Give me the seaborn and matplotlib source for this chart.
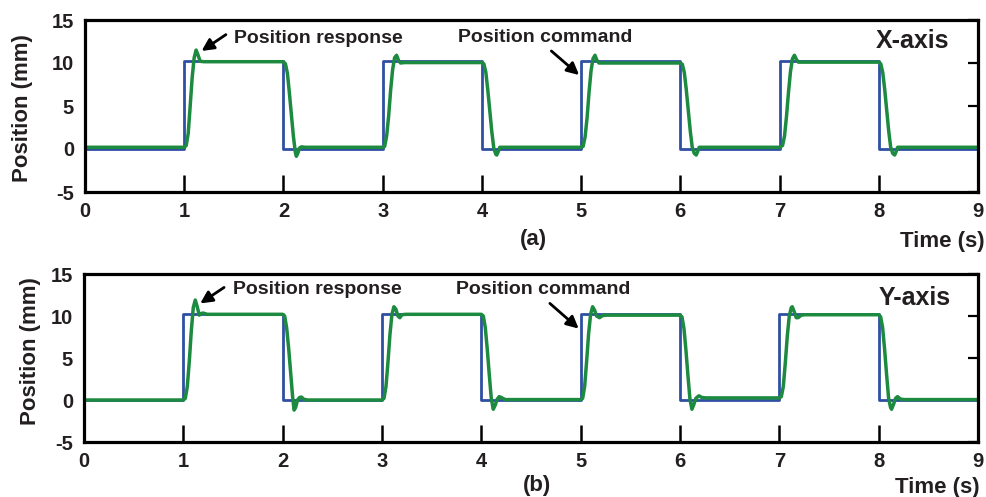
import matplotlib
matplotlib.use("Agg")
import matplotlib.pyplot as plt
import seaborn as sns
import pandas as pd

# ---------------- data ----------------
cmd_t = [0, 1, 2, 3, 4, 5, 6, 7, 8, 9]
cmd_a = [0, 10.2, 0, 10.2, 0, 10.2, 0, 10.2, 0, 0]
cmd_b = [0, 10.2, 0, 10.2, 0, 10.2, 0, 10.2, 0, 0]

resp_a_t = [0.00, 1.00, 1.02, 1.04, 1.06, 1.08, 1.10, 1.12, 1.14, 1.16, 1.20,
            2.00, 2.02, 2.04, 2.06, 2.08, 2.10, 2.12, 2.13, 2.145, 2.16, 2.18, 2.22,
            3.00, 3.02, 3.04, 3.06, 3.08, 3.10, 3.12, 3.14, 3.16, 3.18, 3.22,
            4.00, 4.02, 4.04, 4.06, 4.08, 4.10, 4.12, 4.14, 4.15, 4.165, 4.18, 4.22,
            5.00, 5.02, 5.04, 5.06, 5.08, 5.10, 5.12, 5.14, 5.16, 5.18, 5.22,
            6.00, 6.02, 6.04, 6.06, 6.08, 6.10, 6.12, 6.14, 6.16, 6.175, 6.19, 6.23,
            7.00, 7.03, 7.05, 7.07, 7.09, 7.11, 7.13, 7.15, 7.17, 7.19, 7.23,
            8.00, 8.02, 8.04, 8.06, 8.08, 8.10, 8.12, 8.14, 8.16, 8.175, 8.19, 8.23, 9.00]
resp_a_y = [0.2, 0.2, 0.4, 1.8, 5.0, 8.3, 10.6, 11.5, 10.9, 10.2, 10.15,
            10.15, 9.9, 8.8, 6.5, 4.0, 1.5, -0.4, -0.85, -0.5, 0.1, 0.25, 0.2,
            0.2, 0.3, 1.5, 3.8, 6.8, 9.2, 10.6, 10.9, 10.3, 10.0, 10.05,
            10.05, 9.9, 8.9, 6.8, 4.4, 2.0, 0.1, -0.6, -0.7, -0.3, 0.2, 0.2,
            0.2, 0.3, 1.4, 3.6, 6.6, 9.1, 10.5, 10.9, 10.3, 10.0, 10.0,
            10.0, 9.85, 8.9, 6.9, 4.5, 2.1, 0.2, -0.5, -0.7, -0.3, 0.2, 0.2,
            0.2, 0.4, 1.5, 3.8, 6.6, 9.0, 10.5, 10.9, 10.4, 10.1, 10.1,
            10.1, 9.9, 8.9, 6.9, 4.5, 2.1, 0.2, -0.5, -0.7, -0.3, 0.2, 0.2, 0.2]

resp_b_t = [0.00, 1.00, 1.02, 1.04, 1.06, 1.08, 1.10, 1.12, 1.14, 1.16, 1.18, 1.20, 1.24,
            2.00, 2.02, 2.04, 2.06, 2.08, 2.10, 2.115, 2.13, 2.15, 2.17, 2.19, 2.21, 2.25,
            3.00, 3.02, 3.04, 3.06, 3.08, 3.10, 3.12, 3.14, 3.16, 3.18, 3.20, 3.24,
            4.00, 4.02, 4.04, 4.06, 4.08, 4.10, 4.12, 4.14, 4.16, 4.18, 4.20, 4.24,
            5.00, 5.02, 5.04, 5.06, 5.08, 5.10, 5.12, 5.14, 5.16, 5.19, 5.22, 5.26,
            6.00, 6.02, 6.04, 6.06, 6.08, 6.10, 6.12, 6.14, 6.16, 6.19, 6.22, 6.26,
            7.00, 7.02, 7.04, 7.06, 7.08, 7.10, 7.12, 7.13, 7.15, 7.17, 7.19, 7.22, 7.26,
            8.00, 8.02, 8.04, 8.06, 8.08, 8.10, 8.12, 8.13, 8.15, 8.17, 8.19, 8.22, 8.26, 9.00]
resp_b_y = [0.0, 0.0, 0.2, 1.6, 4.6, 8.2, 11.0, 11.9, 11.1, 10.1, 10.3, 10.35, 10.2,
            10.2, 10.0, 8.6, 6.2, 3.3, 0.4, -1.2, -0.9, 0.0, 0.3, 0.35, 0.1, 0.0,
            0.0, 0.2, 1.6, 4.5, 7.8, 10.2, 11.1, 10.8, 10.0, 9.8, 10.15, 10.2,
            10.2, 10.0, 8.6, 6.0, 3.0, 0.2, -1.1, -0.6, 0.1, 0.4, 0.3, 0.05,
            0.05, 0.2, 1.6, 4.6, 7.9, 10.2, 11.1, 10.7, 10.0, 9.8, 10.05, 10.1,
            10.1, 9.9, 8.5, 5.9, 2.9, 0.1, -1.1, -0.5, 0.2, 0.5, 0.3, 0.25,
            0.25, 0.4, 1.6, 4.4, 7.6, 10.0, 11.0, 11.1, 10.5, 9.8, 9.8, 10.1, 10.15,
            10.15, 9.9, 8.6, 6.0, 3.0, 0.2, -0.9, -1.1, -0.5, 0.2, 0.4, 0.1, 0.05, 0.05]

x_ticks = [0, 1, 2, 3, 4, 5, 6, 7, 8, 9]
y_ticks = [-5, 0, 5, 10, 15]
panel_titles = ["X-axis", "Y-axis"]
panel_tags = ["(a)", "(b)"]

# ---------------- style ----------------
sns.set_theme(style="white")
plt.rcParams["font.family"] = ["Liberation Sans", "DejaVu Sans"]
plt.rcParams["font.weight"] = "bold"
plt.rcParams["axes.labelweight"] = "bold"
plt.rcParams["axes.unicode_minus"] = False

TXT = "#231f20"
BLUE = "#2f4fa2"
GREEN = "#1c8a3f"

fig = plt.figure(figsize=(9.87, 4.97), dpi=100)
ax_a = fig.add_axes([85 / 987, 1 - 192 / 497, 893 / 987, 172 / 497])
ax_b = fig.add_axes([84 / 987, 1 - 442 / 497, 894 / 987, 168 / 497])


def draw(ax, cmd, rt, ry):
    df_c = pd.DataFrame({"t": cmd_t, "pos": cmd})
    df_r = pd.DataFrame({"t": rt, "pos": ry})
    sns.lineplot(data=df_c, x="t", y="pos", ax=ax, color=BLUE, lw=2.0,
                 drawstyle="steps-post", legend=False, estimator=None)
    sns.lineplot(data=df_r, x="t", y="pos", ax=ax, color=GREEN, lw=2.5,
                 sort=False, legend=False, estimator=None)
    ax.set_xlim(0, 9)
    ax.set_ylim(-5, 15)
    ax.set_xticks(x_ticks)
    ax.set_yticks(y_ticks)
    ax.set_xlabel("")
    ax.set_ylabel("")
    ax.tick_params(axis="x", direction="in", length=12, width=1.8, pad=7,
                   labelsize=14.5, colors="black", labelcolor=TXT,
                   bottom=True, top=False)
    ax.tick_params(axis="y", direction="in", length=7, width=1.6, pad=8,
                   labelsize=14.5, left=False, right=True,
                   labelleft=True, labelright=False, colors="black",
                   labelcolor=TXT)
    for lab in ax.get_xticklabels() + ax.get_yticklabels():
        lab.set_fontweight("bold")
    for s in ax.spines.values():
        s.set_linewidth(2.3)
        s.set_color("black")
        s.set_visible(True)


draw(ax_a, cmd_a, resp_a_t, resp_a_y)
draw(ax_b, cmd_b, resp_b_t, resp_b_y)

arrow = dict(arrowstyle="-|>", color="black", lw=2.0, mutation_scale=18,
             shrinkA=0, shrinkB=0)

# panel (a) annotations
ax_a.text(1.50, 12.9, "Position response", fontsize=14, fontweight="bold",
          color=TXT, ha="left", va="center")
ax_a.annotate("", xy=(1.175, 11.4), xytext=(1.42, 13.3), arrowprops=arrow)
ax_a.text(3.76, 13.0, "Position command", fontsize=14, fontweight="bold",
          color=TXT, ha="left", va="center")
ax_a.annotate("", xy=(4.98, 8.6), xytext=(4.70, 11.4), arrowprops=arrow)
ax_a.text(7.97, 12.55, panel_titles[0], fontsize=18, fontweight="bold",
          color=TXT, ha="left", va="center")

# panel (b) annotations
ax_b.text(1.50, 13.1, "Position response", fontsize=14, fontweight="bold",
          color=TXT, ha="left", va="center")
ax_b.annotate("", xy=(1.17, 11.5), xytext=(1.41, 13.4), arrowprops=arrow)
ax_b.text(3.75, 13.1, "Position command", fontsize=14, fontweight="bold",
          color=TXT, ha="left", va="center")
ax_b.annotate("", xy=(4.98, 8.5), xytext=(4.69, 11.5), arrowprops=arrow)
ax_b.text(8.0, 12.1, panel_titles[1], fontsize=18, fontweight="bold",
          color=TXT, ha="left", va="center")

# axis labels and tags
H = 497.0
W = 987.0
fig.text(23 / W, 1 - 108 / H, "Position (mm)", rotation=90, fontsize=16,
         fontweight="bold", color=TXT, ha="center", va="center")
fig.text(31 / W, 1 - 351 / H, "Position (mm)", rotation=90, fontsize=16,
         fontweight="bold", color=TXT, ha="center", va="center")
fig.text(985 / W, 1 - 241 / H, "Time (s)", fontsize=16, fontweight="bold",
         color=TXT, ha="right", va="center")
fig.text(980 / W, 1 - 487 / H, "Time (s)", fontsize=16, fontweight="bold",
         color=TXT, ha="right", va="center")
fig.text(533 / W, 1 - 240 / H, panel_tags[0], fontsize=16, fontweight="bold",
         color=TXT, ha="center", va="center")
fig.text(537 / W, 1 - 485 / H, panel_tags[1], fontsize=16, fontweight="bold",
         color=TXT, ha="center", va="center")

fig.savefig("out.png", dpi=100, facecolor="white")
